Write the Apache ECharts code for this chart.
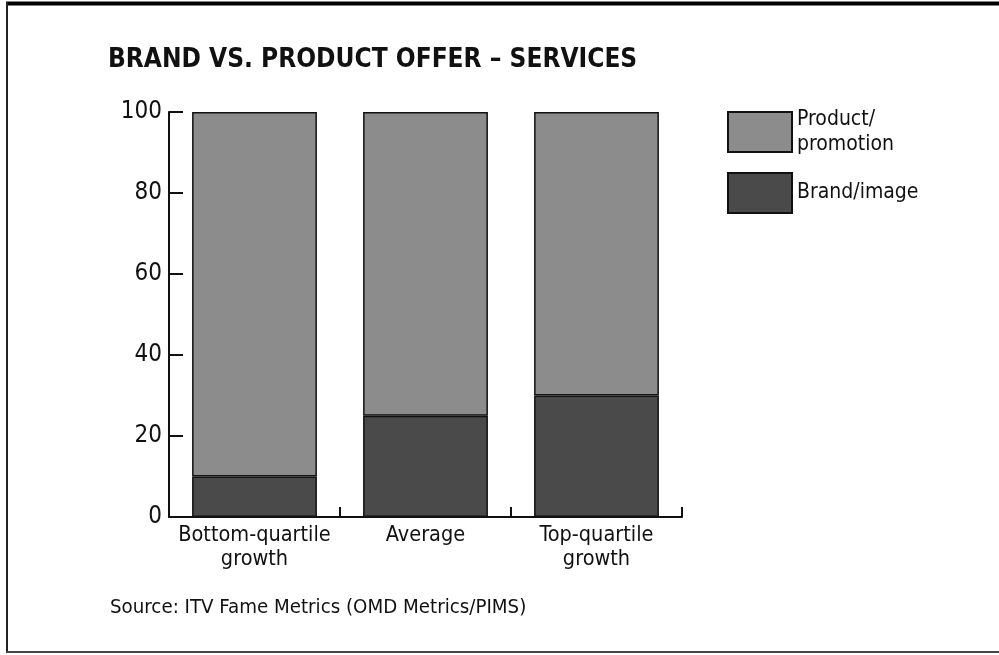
<!DOCTYPE html>
<html>
<head>
<meta charset="utf-8">
<script src="https://cdn.jsdelivr.net/npm/echarts@6/dist/echarts.min.js"></script>
<style>html,body{margin:0;padding:0;background:#fff;}#c{width:999px;height:655px;}</style>
</head>
<body>
<div id="c"></div>
<script>
const categories = ['Bottom-quartile\ngrowth', 'Average', 'Top-quartile\ngrowth'];
const brandImage = [10, 25, 30];
const productPromotion = [90, 75, 70];
const yTicks = [0, 20, 40, 60, 80, 100];
const seriesNames = ['Product/promotion', 'Brand/image'];

const FONT = '"DejaVu Sans Condensed", "DejaVu Sans", sans-serif';
const chart = echarts.init(document.getElementById('c'), null, {renderer: 'canvas'});
chart.setOption({
  backgroundColor: '#fff',
  animation: false,
  title: {
    text: 'BRAND VS. PRODUCT OFFER – SERVICES',
    left: 108, top: 47, padding: 0,
    textStyle: {fontFamily: FONT, fontWeight: 'bold', fontSize: 26, color: '#111'}
  },
  legend: {
    orient: 'vertical',
    left: 727, top: 107, padding: 0,
    itemWidth: 64, itemHeight: 40, itemGap: 15,
    icon: 'rect',
    data: [seriesNames[0], seriesNames[1]],
    formatter: n => n === seriesNames[0] ? 'Product/\npromotion' : n,
    textStyle: {fontFamily: FONT, fontSize: 21, color: '#111', lineHeight: 25}
  },
  grid: {left: 169, top: 112, width: 513, height: 405, containLabel: false},
  xAxis: {
    type: 'category',
    data: categories,
    axisLine: {lineStyle: {color: '#111', width: 2}},
    axisTick: {show: true, inside: true, length: 10, lineStyle: {color: '#111', width: 2}},
    axisLabel: {fontFamily: FONT, fontSize: 21.5, color: '#111', lineHeight: 24, margin: 6, interval: 0}
  },
  yAxis: {
    type: 'value', min: 0, max: 100, interval: 20,
    axisLine: {show: true, lineStyle: {color: '#111', width: 2}},
    axisTick: {show: true, inside: true, length: 14, lineStyle: {color: '#111', width: 2}},
    axisLabel: {fontFamily: FONT, fontSize: 24, color: '#111', margin: 7,
      formatter: v => yTicks.includes(v) ? String(v) : ''},
    splitLine: {show: false}
  },
  series: [
    {
      name: seriesNames[1], type: 'bar', stack: 'a', data: brandImage,
      barCategoryGap: '27%',
      itemStyle: {color: '#4a4a4a', borderColor: '#111', borderWidth: 1.5}
    },
    {
      name: seriesNames[0], type: 'bar', stack: 'a', data: productPromotion,
      barCategoryGap: '27%',
      itemStyle: {color: '#8c8c8c', borderColor: '#111', borderWidth: 1.5}
    }
  ],
  graphic: [
    {type: 'line', shape: {x1: 6, y1: 3.5, x2: 999, y2: 3.5}, style: {stroke: '#000', lineWidth: 4}},
    {type: 'line', shape: {x1: 7, y1: 2, x2: 7, y2: 653}, style: {stroke: '#222', lineWidth: 2}},
    {type: 'line', shape: {x1: 6, y1: 652, x2: 999, y2: 652}, style: {stroke: '#444', lineWidth: 2}},
    {type: 'text', left: 110, top: 598,
      style: {text: 'Source: ITV Fame Metrics (OMD Metrics/PIMS)', fontFamily: FONT, fontSize: 20.3, fill: '#111'}}
  ]
});
</script>
</body>
</html>
